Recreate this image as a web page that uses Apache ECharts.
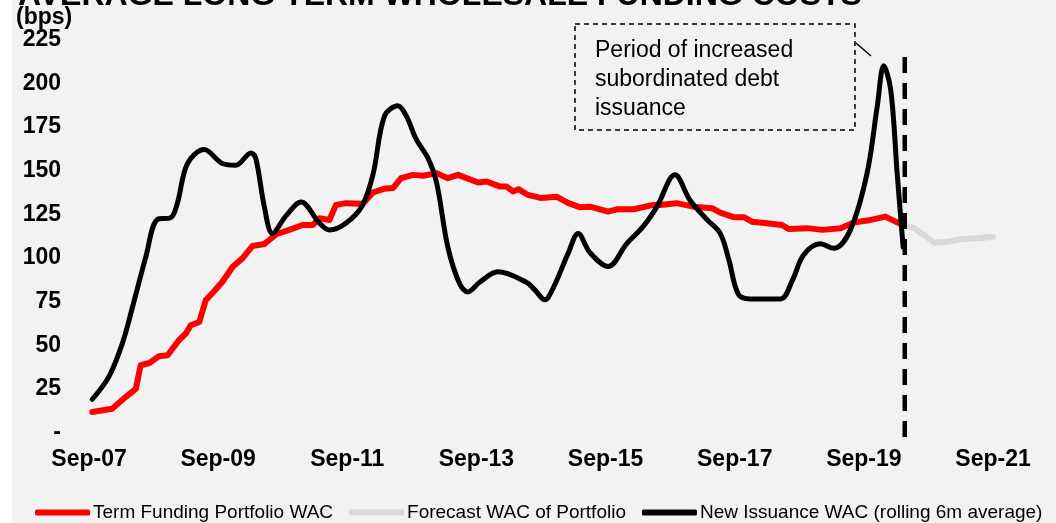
<!DOCTYPE html>
<html>
<head>
<meta charset="utf-8">
<script src="https://cdn.jsdelivr.net/npm/echarts@6/dist/echarts.min.js"></script>
<style>
  html, body { margin: 0; padding: 0; background: #ffffff; }
  #chart { width: 1056px; height: 523px; background: linear-gradient(to right, #ffffff 12px, #f2f2f2 12px); }
</style>
</head>
<body>
<div id="chart"></div>
<script>
// ---- DATA (x = months since Sep-07) ----
var xTickLabels = ['Sep-07', 'Sep-09', 'Sep-11', 'Sep-13', 'Sep-15', 'Sep-17', 'Sep-19', 'Sep-21'];
var yTickLabels = ['-', '25', '50', '75', '100', '125', '150', '175', '200', '225'];

var portfolioMonths = [0.6, 4.3, 6.8, 8.7, 9.6, 11.2, 13, 14.6, 16.8, 18, 18.9, 20.5, 21.7, 23, 24.8, 26.7, 28.5, 30.4, 32.6, 34.8, 37.2, 39.7, 41.6, 42.8, 44.7, 45.9, 47.8, 50.9, 52.8, 54.8, 56.5, 58, 60.2, 62.1, 64.6, 66.7, 68.6, 72.3, 73.9, 76.4, 77.6, 78.8, 79.8, 81.6, 84.1, 86.9, 89.1, 91.2, 93.1, 96.5, 98.1, 101.2, 104.9, 106.1, 109.2, 112.3, 115.8, 117.3, 119.8, 121.7, 123.2, 126, 128.8, 130, 133.5, 136.3, 139.7, 142.1, 145.3, 148, 149.9, 151.2];
var portfolioValues = [11.7, 13.6, 20.3, 25, 38.5, 39.8, 43.6, 44.2, 53.2, 56.7, 61.4, 63.3, 75.8, 80, 86.3, 94.9, 99.7, 106.8, 107.9, 113.5, 116, 118.8, 118.8, 122.7, 121.7, 130.3, 131.3, 130.9, 137.5, 139.5, 140, 145.6, 147.5, 147, 148.5, 145.6, 147.5, 143.1, 143.7, 140.8, 140.8, 138, 139.3, 136, 134.2, 135, 131.3, 129, 129.3, 126.5, 127.8, 127.8, 130.3, 130.3, 131.3, 129.3, 128.4, 125.9, 123.3, 123.3, 120.7, 119.8, 118.8, 116.5, 117, 116, 117, 120.2, 121.7, 123.6, 120.7, 118.8];

var forecastMonths = [151.2, 153.3, 155.2, 157.1, 159.6, 162, 165.1, 168];
var forecastValues = [118.8, 117, 113, 108.7, 109.2, 110.6, 111.2, 112];

var issuanceMonths = [0.6, 3.7, 6.2, 8.1, 10.6, 12.7, 15.2, 16.4, 18.3, 21.4, 24.8, 27.3, 30.1, 31, 32.6, 34.1, 36.6, 39.4, 42.8, 44.7, 47.8, 50.8, 52.8, 54.9, 57.4, 59, 60.8, 63, 64.6, 66.7, 68.9, 70.4, 72.6, 76, 81.3, 82.9, 84.7, 86.3, 89.1, 90.9, 93.1, 96.5, 99.9, 103, 105.5, 108.9, 111.7, 114.8, 117.3, 118.9, 120.7, 122.9, 128.5, 130.7, 132.8, 135.9, 138.4, 141.5, 144.6, 146.5, 147.7, 149, 150.2, 151.3];
var issuanceValues = [19, 32, 51, 72, 101, 122, 123, 131, 154, 162, 154, 153, 160, 157, 129, 114, 124, 132, 120, 116, 120, 130, 148, 181, 187, 181, 168, 157, 143, 106, 85, 80.5, 86, 92, 86, 81.5, 76, 83, 103, 114, 103, 95, 108, 118, 129, 147.5, 133, 122, 114, 99, 79, 76.5, 76.5, 87, 101.6, 108, 105.5, 116, 148.5, 187, 210, 196, 148, 106];

var forecastStartMonth = 151.6;
var dividerTop = 215;
var dividerBottom = -6;

function pairs(xs, ys) {
  var out = [];
  for (var i = 0; i < xs.length; i++) out.push([xs[i], ys[i]]);
  return out;
}

var FONT = '"Liberation Sans", Arial, sans-serif';
var chart = echarts.init(document.getElementById('chart'));

var staticGraphics = [
  {
    type: 'text', left: 18, top: -20, silent: true,
    style: { text: 'AVERAGE LONG TERM WHOLESALE FUNDING COSTS', font: 'bold 32px ' + FONT, fill: '#000' }
  },
  {
    type: 'text', left: 16, top: 6, silent: true,
    style: { text: '(bps)', font: 'bold 23px ' + FONT, fill: '#000' }
  },
  {
    type: 'rect', silent: true,
    shape: { x: 575, y: 24, width: 280, height: 106 },
    style: { fill: 'none', stroke: '#000', lineWidth: 1.5, lineDash: [5, 4] }
  },
  {
    type: 'text', left: 595, top: 36, silent: true,
    style: { text: 'Period of increased\nsubordinated debt\nissuance', font: '23px ' + FONT, fill: '#000', lineHeight: 29 }
  },
  {
    type: 'line', silent: true,
    shape: { x1: 856, y1: 43, x2: 871, y2: 56 },
    style: { stroke: '#000', lineWidth: 1.5 }
  }
];

chart.setOption({
  animation: false,
  backgroundColor: 'transparent',
  grid: { left: 89, right: 63, top: 39.5, bottom: 90.5, containLabel: false },
  xAxis: {
    type: 'value', min: 0, max: 168, interval: 24,
    axisLine: { show: false }, axisTick: { show: false }, splitLine: { show: false },
    axisLabel: {
      margin: 16, color: '#000', fontSize: 23, fontWeight: 'bold', fontFamily: FONT,
      formatter: function (v) { return xTickLabels[Math.round(v / 24)]; }
    }
  },
  yAxis: {
    type: 'value', min: 0, max: 225, interval: 25,
    axisLine: { show: false }, axisTick: { show: false }, splitLine: { show: false },
    axisLabel: {
      margin: 28, color: '#000', fontSize: 23, fontWeight: 'bold', fontFamily: FONT,
      formatter: function (v) { return yTickLabels[Math.round(v / 25)]; }
    }
  },
  legend: {
    left: 35, top: 503, padding: 0, itemWidth: 55, itemHeight: 6, itemGap: 16,
    icon: 'roundRect',
    textStyle: { color: '#000', fontSize: 19, fontFamily: FONT, padding: [0, 0, 0, -2] },
    data: ['Term Funding Portfolio WAC', 'Forecast WAC of Portfolio', 'New Issuance WAC (rolling 6m average)']
  },
  series: [
    {
      name: 'Term Funding Portfolio WAC', type: 'line', z: 2,
      data: pairs(portfolioMonths, portfolioValues),
      showSymbol: false, symbol: 'none',
      lineStyle: { color: '#ff0000', width: 6, join: 'round', cap: 'round' },
      itemStyle: { color: '#ff0000' }
    },
    {
      name: 'Forecast WAC of Portfolio', type: 'line', z: 1,
      data: pairs(forecastMonths, forecastValues),
      showSymbol: false, symbol: 'none',
      lineStyle: { color: '#d9d9d9', width: 6, join: 'round', cap: 'round' },
      itemStyle: { color: '#d9d9d9' }
    },
    {
      name: 'New Issuance WAC (rolling 6m average)', type: 'line', z: 3,
      data: pairs(issuanceMonths, issuanceValues),
      smooth: 0.35,
      showSymbol: false, symbol: 'none',
      lineStyle: { color: '#000000', width: 5, join: 'round', cap: 'round' },
      itemStyle: { color: '#000000' }
    }
  ],
  graphic: staticGraphics
});

// Divider line placed through the chart's own scales
var pTop = chart.convertToPixel({ gridIndex: 0 }, [forecastStartMonth, dividerTop]);
var pBot = chart.convertToPixel({ gridIndex: 0 }, [forecastStartMonth, dividerBottom]);
chart.setOption({
  graphic: staticGraphics.concat([{
    type: 'line', silent: true, z: 10,
    shape: { x1: pTop[0], y1: pTop[1], x2: pBot[0], y2: pBot[1] },
    style: { stroke: '#000', lineWidth: 4.5, lineDash: [16, 10] }
  }])
});
</script>
</body>
</html>
